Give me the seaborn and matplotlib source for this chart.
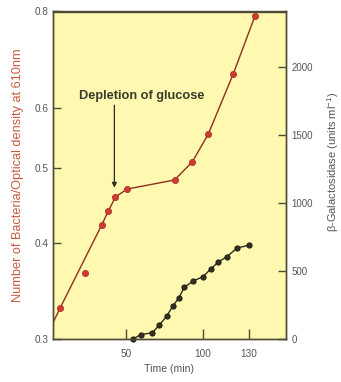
import matplotlib
matplotlib.use("Agg")
import matplotlib.pyplot as plt
import seaborn as sns
from matplotlib.ticker import FixedLocator, FixedFormatter, NullLocator

# Optical density of the culture (left axis, log scale)
od_time = [6.6, 22.9, 33.8, 38.1, 42.8, 50.3, 81.4, 93.0, 103.4, 119.8, 133.9]
od_value = [0.329, 0.366, 0.422, 0.440, 0.459, 0.470, 0.483, 0.510, 0.554, 0.664, 0.789]

# Growth curve drawn through the culture readings
curve_time = [2.0, 6.6, 33.8, 38.1, 42.8, 50.3, 81.4, 93.0, 103.4, 119.8, 133.9]
curve_od = [0.315, 0.329, 0.422, 0.440, 0.459, 0.470, 0.483, 0.510, 0.554, 0.664, 0.789]

# beta-galactosidase activity (right axis)
gal_time = [54.4, 59.2, 66.9, 71.5, 76.2, 80.2, 84.3, 87.8, 93.6, 100.1,
            104.9, 109.9, 115.6, 122.2, 130.2]
gal_units = [0, 32, 46, 103, 167, 240, 304, 380, 426, 458, 513, 564, 605, 667, 690]

# Glucose depletion marker
depletion_time = 42.1
depletion_arrow = (0.472, 0.604)

x_ticks = [50, 100, 130]
od_ticks = [0.3, 0.4, 0.5, 0.6, 0.8]
od_tick_labels = ["0.3", "0.4", "0.5", "0.6", "0.8"]
gal_ticks = [0, 500, 1000, 1500, 2000]

sns.set_style("ticks")
plt.rcParams["font.family"] = ["Liberation Sans", "DejaVu Sans"]
plt.rcParams["mathtext.default"] = "regular"

SPINE = "#4f4b35"
TICKTXT = "#555555"
BG = "#FEF8B0"

fig = plt.figure(figsize=(3.41, 3.82), dpi=100)
ax = fig.add_axes([53 / 341, 43 / 382, 232.7 / 341, 327.5 / 382])
ax.set_facecolor(BG)
ax2 = ax.twinx()

# growth curve and culture readings
sns.lineplot(x=curve_time, y=curve_od, ax=ax, color="#8E2E1E", linewidth=1.0,
             sort=False, estimator=None, zorder=2)
sns.scatterplot(x=od_time, y=od_value, ax=ax, color="#D03A34", s=20,
                edgecolor="#A32A20", linewidth=0.5, zorder=3)

# enzyme activity
sns.lineplot(x=gal_time, y=gal_units, ax=ax2, color="#2E2C22", linewidth=1.0,
             marker="o", markersize=3.7, markeredgecolor="#1f1d15",
             markerfacecolor="#33311f", sort=False, estimator=None)
for ln in ax2.lines:
    ln.set_clip_on(False)

ax.set_xlim(2, 154)
ax.set_yscale("log")
ax.set_ylim(0.3, 0.8)
ax.yaxis.set_major_locator(FixedLocator(od_ticks))
ax.yaxis.set_major_formatter(FixedFormatter(od_tick_labels))
ax.yaxis.set_minor_locator(NullLocator())
ax.xaxis.set_major_locator(FixedLocator(x_ticks))

ax2.set_ylim(0, 2404)
ax2.yaxis.set_major_locator(FixedLocator(gal_ticks))

for a in (ax, ax2):
    for sp in a.spines.values():
        sp.set_visible(True)
        sp.set_color(SPINE)
        sp.set_linewidth(1.0)

ax.tick_params(axis="both", which="major", direction="in", length=6, width=1.0,
               color=SPINE, labelsize=7.2, labelcolor=TICKTXT, pad=3)
ax.tick_params(axis="x", length=7, pad=7)
ax2.tick_params(axis="y", direction="in", length=6, width=1.0, color=SPINE,
                labelsize=7.0, labelcolor=TICKTXT, pad=4)

ax.set_xlabel("Time (min)", fontsize=7.6, color="#555555")
ax.set_ylabel("Number of Bacteria/Optical density at 610nm", fontsize=9.2,
              color="#C85A44")
ax.yaxis.set_label_coords(-0.125, 0.5)
ax2.set_ylabel("β-Galactosidase (units ml$^{-1}$)", fontsize=8.0,
               color="#555555")
ax2.yaxis.set_label_coords(1.17, 0.54)

# glucose depletion annotation
ax.annotate("", xy=(depletion_time, depletion_arrow[0]),
            xytext=(depletion_time, depletion_arrow[1]),
            arrowprops=dict(arrowstyle="-|>", color="#2a2a22", lw=0.9,
                            mutation_scale=7, shrinkA=0, shrinkB=0))
ax.text(60.1, 0.621, "Depletion of glucose", ha="center", va="center",
        fontsize=9.2, fontweight="bold", color="#3b3a2c")

fig.savefig("out.png", dpi=100)
